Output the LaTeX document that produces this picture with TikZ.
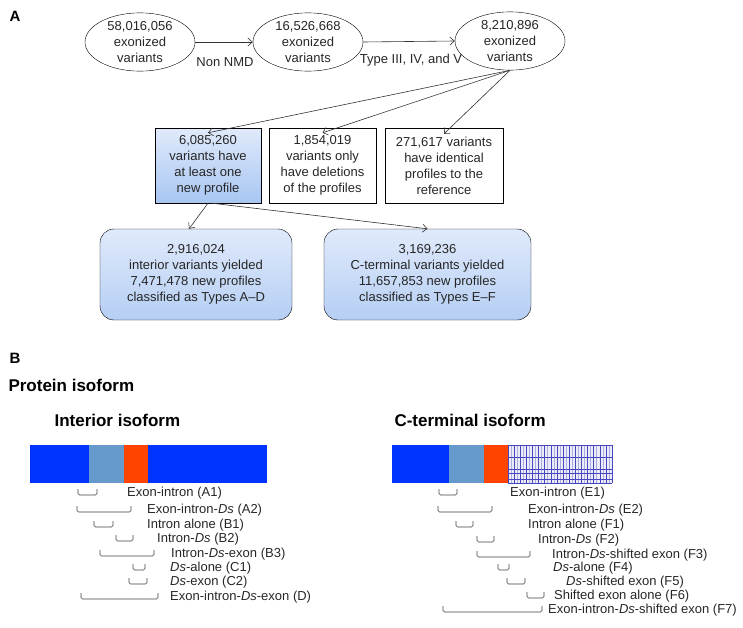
\documentclass[tikz,border=0pt]{standalone}
\usepackage{fontspec}
\setmainfont{Liberation Sans}
\usetikzlibrary{shapes.geometric,arrows.meta}

\definecolor{exonblue}{RGB}{0,51,255}
\definecolor{intronblue}{RGB}{102,153,204}
\definecolor{dsred}{RGB}{255,68,0}
\definecolor{gridblue}{RGB}{70,70,190}
\definecolor{boxtop}{RGB}{224,234,251}
\definecolor{boxbottom}{RGB}{168,198,242}

\begin{document}
\begin{tikzpicture}[x=1pt,y=-1pt,
        every node/.style={font=\fontsize{13}{16}\selectfont,text=black!85},
        variant/.style={ellipse,draw,minimum width=110pt,minimum height=56pt,inner sep=0pt,align=center},
        outcome/.style={rectangle,draw,minimum height=75pt,inner sep=1pt,align=center},
        result/.style={rectangle,draw,rounded corners=14pt,minimum height=91pt,align=center,
            top color=boxtop,bottom color=boxbottom!85},
        flow/.style={-{Straight Barb[length=4.5pt,width=8pt]},draw=black!80,line width=0.6pt},
        heading/.style={font=\fontsize{17}{20}\selectfont\bfseries,text=black,anchor=west},
        panel/.style={font=\fontsize{15}{18}\selectfont\bfseries,text=black},
        bracket/.style={draw=black!75,line width=0.6pt,rounded corners=1.5pt},
        isolabel/.style={anchor=west,inner sep=0pt}]

    \useasboundingbox (0,0) rectangle (743,627);

    % Panel A
    \node[panel] (pA) at (15,16) {A};

    % Exonized variants
    \node[variant] (e1) at (140,42) {58,016,056\\exonized\\variants};
    \node[variant] (e2) at (308,42) {16,526,668\\exonized\\variants};
    \node[variant] (e3) at (510,41) {8,210,896\\exonized\\variants};

    \node (nmd) at (225,62) {Non NMD};
    \node (typ) at (411,60) {Type III, IV, and V};

    % Outcomes
    \node[outcome,minimum width=106pt,top color=boxtop,bottom color=boxbottom] (o1) at (208,165.5)
        {6,085,260\\variants have\\at least one\\new profile};
    \node[outcome,minimum width=107pt] (o2) at (322.5,165.5)
        {1,854,019\\variants only\\have deletions\\of the profiles};
    \node[outcome,minimum width=118pt] (o3) at (444,165.5)
        {271,617 variants\\have identical\\profiles to the\\reference};

    % Results
    \node[result,minimum width=192pt] (r1) at (196,274.5)
        {2,916,024\\interior variants yielded\\7,471,478 new profiles\\classified as Types A--D};
    \node[result,minimum width=207pt] (r2) at (427.5,274.5)
        {3,169,236\\C-terminal variants yielded\\11,657,853 new profiles\\classified as Types E--F};

    % Edges
    \draw[flow] (e1.east) -- (e2.west);
    \draw[flow] (e2.east) -- (e3.west);
    \draw[flow] (e3.south) -- ([yshift=-5pt]o1.north);
    \draw[flow] (e3.south) -- ([yshift=-5pt]o2.north);
    \draw[flow] (e3.south) -- ([yshift=-6pt]o3.north);
    \draw[flow] (o1.south) -- ([xshift=-7pt]r1.north);
    \draw[flow] ([xshift=4pt]o1.south) -- (r2.north);

    % Panel B
    \node[panel] (pB) at (15,358) {B};
    \node[heading] (prot) at (5,385) {Protein isoform};
    \node[heading] (inth) at (51,420) {Interior isoform};
    \node[heading] (cterh) at (391,420) {C-terminal isoform};

    % Interior isoform bar
    \fill[exonblue] (30,445) rectangle (89,483);
    \fill[intronblue] (89,445) rectangle (124,483);
    \fill[dsred] (124,445) rectangle (148,483);
    \fill[exonblue] (148,445) rectangle (267,483);

    % C-terminal isoform bar
    \fill[exonblue] (392,445) rectangle (449,483);
    \fill[intronblue] (449,445) rectangle (484,483);
    \fill[dsred] (484,445) rectangle (508,483);
    \fill[gridblue!10] (508,445) rectangle (612,483);
    \foreach \gx in {1,...,34}
        \draw[gridblue!45,line width=0.6pt] (508+\gx*3.06,445) -- (508+\gx*3.06,483);
    \foreach \gx in {0,...,17}
        \draw[gridblue,line width=0.6pt] (508+\gx*6.12,445) -- (508+\gx*6.12,483);
    \foreach \gy in {445,457,469,473.5,479,483}
        \draw[gridblue,line width=0.6pt] (508,\gy) -- (612,\gy);
    \draw[gridblue,line width=0.6pt] (612,445) -- (612,483);

    % Interior profiles
    \foreach \xa/\xb/\yy/\tx/\lbl [count=\i] in {
        78/97/493/127/{Exon-intron (A1)},
        77/131/510/147/{Exon-intron-\textit{Ds} (A2)},
        94/113/525/147/{Intron alone (B1)},
        116/133/539/157/{Intron-\textit{Ds} (B2)},
        100/154/554/171/{Intron-\textit{Ds}-exon (B3)},
        133/145/568/170/{\textit{Ds}-alone (C1)},
        129/147/582/170/{\textit{Ds}-exon (C2)},
        81/158/597/170/{Exon-intron-\textit{Ds}-exon (D)}}
    {
        \draw[bracket] (\xa,\yy-4) -- (\xa,\yy+2) -- (\xb,\yy+2) -- (\xb,\yy-4);
        \node[isolabel] (int\i) at (\tx,\yy) {\lbl};
    }

    % C-terminal profiles
    \foreach \xa/\xb/\yy/\tx/\lbl [count=\i] in {
        439/457/493/510/{Exon-intron (E1)},
        438/492/510/528/{Exon-intron-\textit{Ds} (E2)},
        456/473/525/528/{Intron alone (F1)},
        477/494/540/538/{Intron-\textit{Ds} (F2)},
        477/530/555/552/{Intron-\textit{Ds}-shifted exon (F3)},
        498/509/568/553/{\textit{Ds}-alone (F4)},
        507/525/582/566/{\textit{Ds}-shifted exon (F5)},
        527/544/596/554/{Shifted exon alone (F6)},
        443/542/610/548/{Exon-intron-\textit{Ds}-shifted exon (F7)}}
    {
        \draw[bracket] (\xa,\yy-4) -- (\xa,\yy+2) -- (\xb,\yy+2) -- (\xb,\yy-4);
        \node[isolabel] (cter\i) at (\tx,\yy) {\lbl};
    }
\end{tikzpicture}
\end{document}
